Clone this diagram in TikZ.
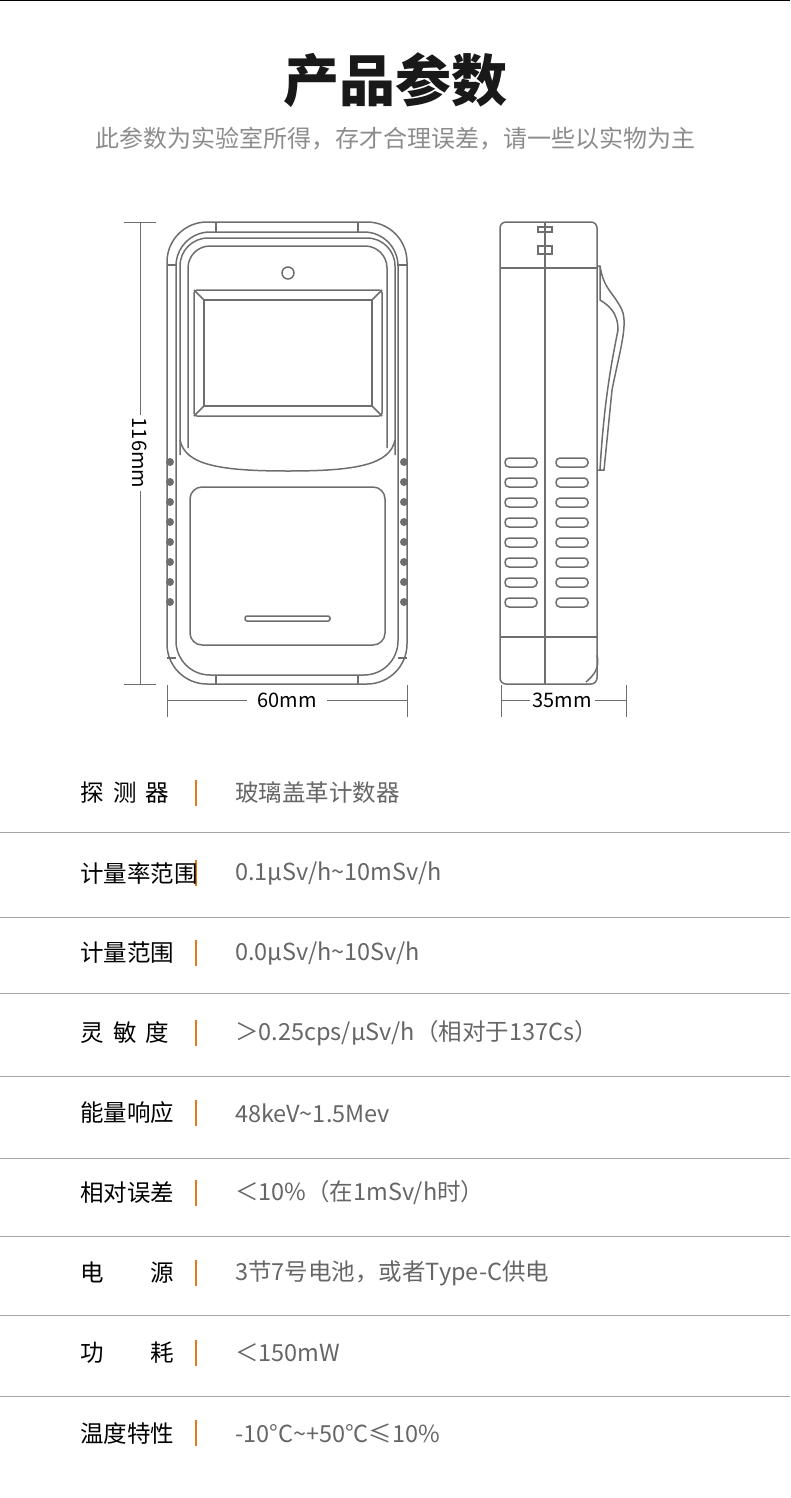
\documentclass[tikz,border=0pt]{standalone}
\usepackage{fontspec}
\setmainfont{Noto Sans CJK SC}
\usetikzlibrary{positioning}
\definecolor{linegray}{HTML}{6E6E6E}
\definecolor{txtgray}{HTML}{666666}
\definecolor{barorange}{HTML}{E07B1F}
\tikzset{
  dev/.style={draw=linegray,line width=1.5pt},
  dimline/.style={draw=linegray,line width=.8pt},
  lbl/.style={anchor=west,font=\fontsize{23.5}{26}\selectfont,text=black,inner sep=0},
  val/.style={anchor=west,font=\fontsize{23.5}{26}\selectfont,text=txtgray,inner sep=0},
  dimtxt/.style={fill=white,font=\fontsize{20}{22}\selectfont,text=black,inner sep=3pt}
}
\begin{document}
\begin{tikzpicture}[x=1pt,y=-1pt]
	\useasboundingbox (0,0) rectangle (790,1498);
	\draw[line width=.8pt] (0,0.4) -- (790,0.4);
	\node[font=\fontsize{56}{60}\selectfont\bfseries,text=black!90] (title) at (395,80) {产品参数};
	\node[font=\fontsize{24}{26}\selectfont,text=black!45] (sub) at (395,139) {此参数为实验室所得，存才合理误差，请一些以实物为主};
	% front view
	\draw[dev,rounded corners=40] (167,222) rectangle (407,684);
	\draw[dev,rounded corners=34] (176,232) rectangle (398,675);
	\draw[dev] (216,222) -- (216,232) (358,222) -- (358,232) (216,684) -- (216,675) (358,684) -- (358,675);
	\draw[dev] (167,265) -- (176,265) (398,265) -- (407,265) (167,658) -- (176,658) (398,658) -- (407,658);
	\draw[dev,rounded corners=28] (180,455) -- (180,238) -- (395,238) -- (395,455);
	\draw[dev] (180,440) .. controls (185,465) and (220,471) .. (288,471) .. controls (355,471) and (390,465) .. (395,440);
	\draw[dev,rounded corners=22] (188,448) -- (188,246) -- (387,246) -- (387,448);
	\draw[dev,rounded corners=3] (194,290) rectangle (382,416);
	\draw[dev] (204,300) rectangle (372,406);
	\draw[dev] (194,290) -- (204,300) (382,290) -- (372,300) (194,416) -- (204,406) (382,416) -- (372,406);
	\draw[dev] (288,273) circle (6);
	\draw[dev,rounded corners=12] (190,487) rectangle (385,645);
	\draw[dev,rounded corners=2] (245,616) rectangle (330,621);
	\foreach \y in {462,482,...,602} {
		\fill[linegray] (170,\y) circle (4);
		\fill[linegray] (404,\y) circle (4);
	}
	% side view
	\draw[dev,rounded corners=6] (500,222) rectangle (597,684);
	\draw[dev] (545,222) -- (545,684) (500,268) -- (597,268) (500,637) -- (597,637);
	\draw[dev] (538,227) rectangle (552,232) (538,246) rectangle (552,254);
	\foreach \y in {462,482,...,602} {
		\draw[dev,rounded corners=4] (505,\y-4) rectangle (537,\y+5);
		\draw[dev,rounded corners=4] (556,\y-4) rectangle (588,\y+5);
	}
	\draw[dev] (597,266) -- (600,266) .. controls (604,290) and (612,290) .. (622,310)
		.. controls (628,325) and (620,350) .. (612,390) -- (604,470) -- (598,470);
	\draw[dev] (600,266) -- (600,300) .. controls (608,305) and (618,312) .. (618,330)
		.. controls (612,360) and (604,400) .. (600,470);
	\draw[dev] (597,655) .. controls (600,668) and (594,675) .. (586,682);
	% dimensions
	\coordinate (vt) at (140,222);
	\coordinate (vb) at (140,684);
	\draw[dimline] (124,222) -- (156,222) (124,684) -- (156,684);
	\draw[dimline] (vt) -- (vb) node[midway,dimtxt,rotate=-90] (h116) {116mm};
	\coordinate (fl) at (167,700);
	\coordinate (fr) at (407,700);
	\draw[dimline] (167,685) -- (167,717) (407,685) -- (407,717);
	\draw[dimline] (fl) -- (fr) node[midway,dimtxt,minimum width=80pt] (w60) {60mm};
	\coordinate (sl) at (501,700);
	\coordinate (sr) at (626,700);
	\draw[dimline] (501,685) -- (501,717) (626,685) -- (626,717);
	\draw[dimline] (sl) -- (sr) node[pos=.49,dimtxt] (w35) {35mm};
	% table
	\foreach \y in {832,917,993,1076,1158,1236,1315,1396}
		\draw[draw=black!35,line width=.8pt] (0,\y) -- (790,\y);
	\foreach \y in {793,873,953,1033,1113,1193,1273,1353,1433}
		\draw[barorange,line width=1.6pt] (196,\y-13) -- (196,\y+13);
	\node[lbl] (l1) at (80,793) {探\hspace{0.4em}测\hspace{0.4em}器};
	\node[lbl] (l2) at (80,873) {计量率范围};
	\node[lbl] (l3) at (80,953) {计量范围};
	\node[lbl] (l4) at (80,1033) {灵\hspace{0.4em}敏\hspace{0.4em}度};
	\node[lbl] (l5) at (80,1113) {能量响应};
	\node[lbl] (l6) at (80,1193) {相对误差};
	\node[lbl] (l7) at (80,1273) {电\hspace{2em}源};
	\node[lbl] (l8) at (80,1353) {功\hspace{2em}耗};
	\node[lbl] (l9) at (80,1433) {温度特性};
	\node[val] (v1) at (235,793) {玻璃盖革计数器};
	\node[val] (v2) at (235,873) {0.1μSv/h\textasciitilde10mSv/h};
	\node[val] (v3) at (235,953) {0.0μSv/h\textasciitilde10Sv/h};
	\node[val] (v4) at (235,1033) {＞0.25cps/μSv/h（相对于137Cs）};
	\node[val] (v5) at (235,1113) {48keV\textasciitilde1.5Mev};
	\node[val] (v6) at (235,1193) {＜10\%（在1mSv/h时）};
	\node[val] (v7) at (235,1273) {3节7号电池，或者Type-C供电};
	\node[val] (v8) at (235,1353) {＜150mW};
	\node[val] (v9) at (235,1433) {-10°C\textasciitilde+50°C≤10\%};
\end{tikzpicture}
\end{document}
